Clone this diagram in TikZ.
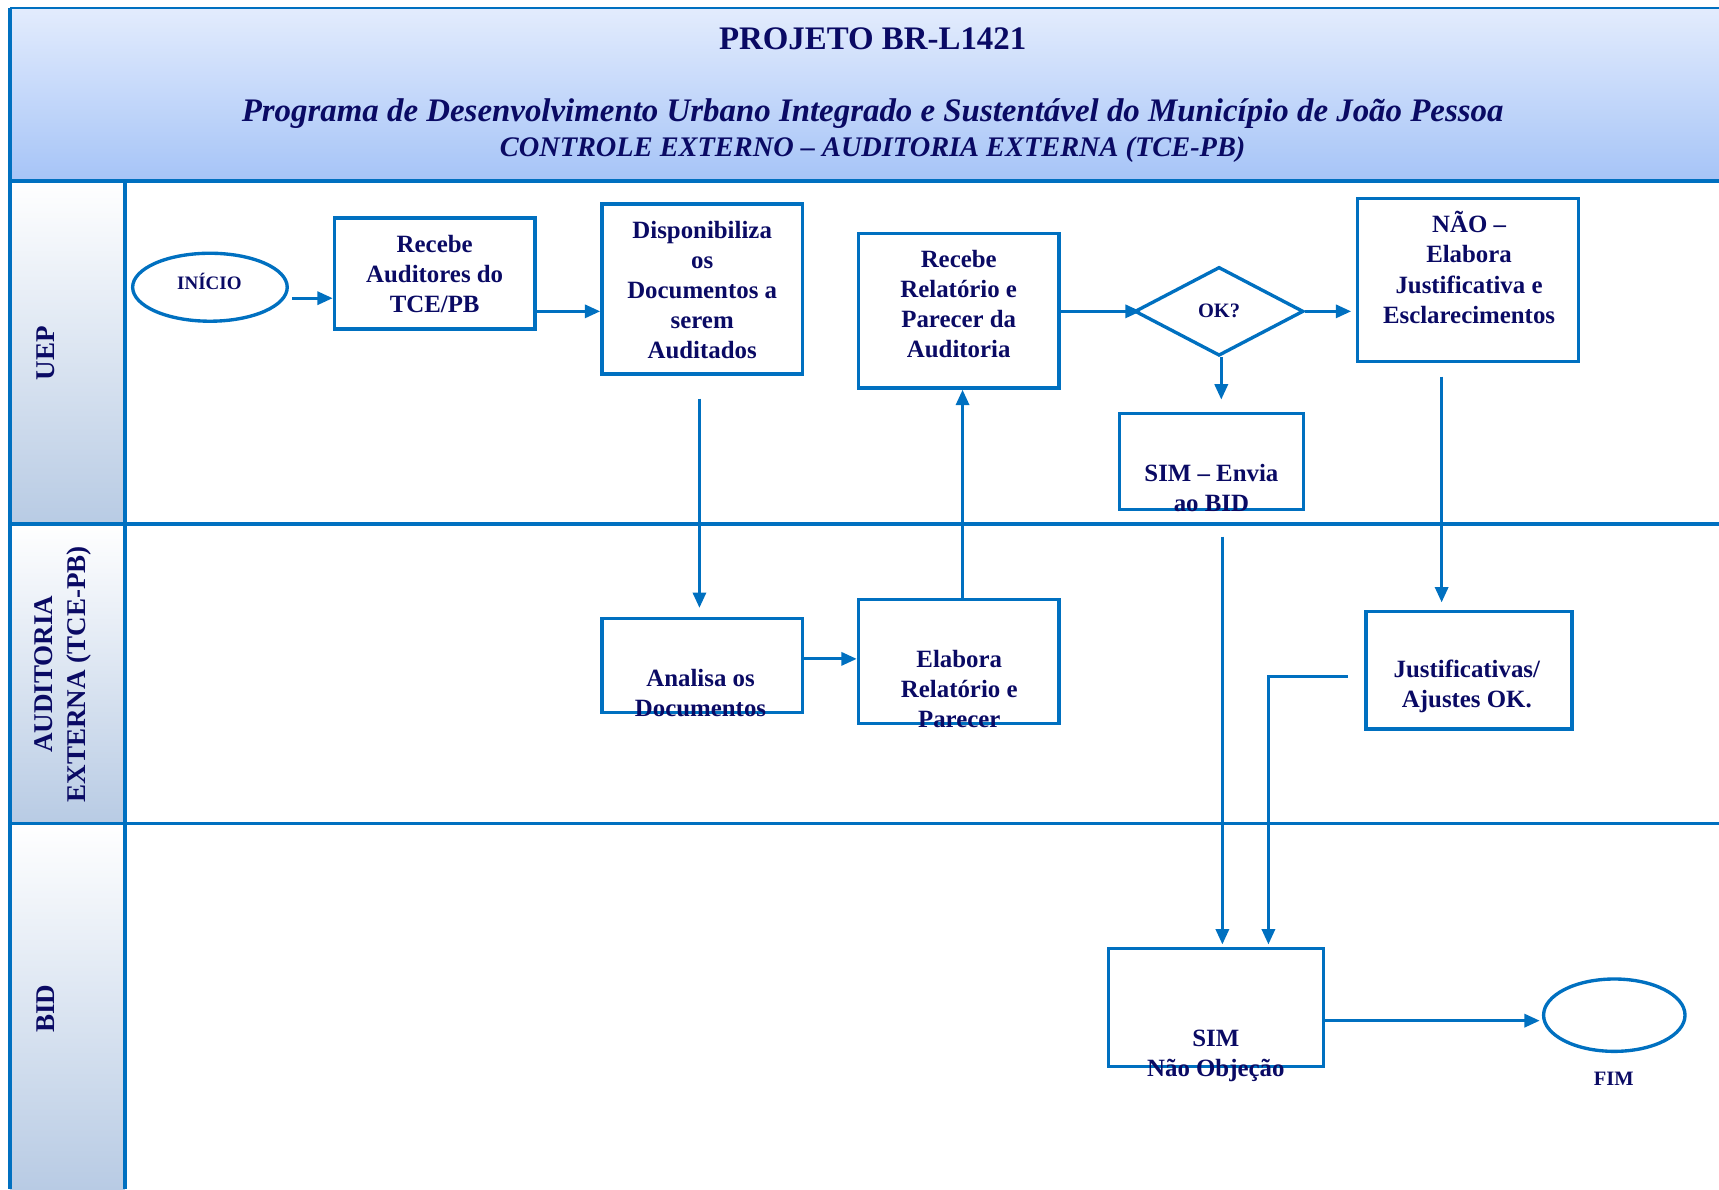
\documentclass[tikz,border=0pt]{standalone}
\usepackage{fontspec}
\setmainfont{Liberation Serif}
\usetikzlibrary{arrows.meta,shapes.geometric,calc}

\definecolor{lineblue}{RGB}{0,112,192}
\definecolor{txtnavy}{RGB}{10,10,100}
\definecolor{headtop}{RGB}{227,236,253}
\definecolor{headbot}{RGB}{166,196,247}
\definecolor{lanebot}{RGB}{184,203,228}

\tikzset{every picture/.style={line width=0.75pt}}
\tikzset{
  procbox/.style={draw=lineblue, line width=2.3pt, rectangle, inner sep=0pt},
  endoval/.style={draw=lineblue, line width=2.3pt, ellipse, inner sep=0pt},
  boxtext/.style={text=txtnavy, font=\bfseries\fontsize{17}{20.6}\selectfont, align=center, inner sep=0pt},
  headtext/.style={text=txtnavy, font=\bfseries\fontsize{22.5}{27}\selectfont, inner sep=0pt, anchor=base},
  lanetag/.style={text=txtnavy, font=\bfseries\fontsize{18.5}{23}\selectfont, align=center, rotate=90, inner sep=0pt},
  flow/.style={draw=lineblue, line width=2pt, -{Triangle[length=10.5pt,width=9pt]}},
  lanerule/.style={draw=lineblue, line width=2.4pt},
}

\begin{document}
\begin{tikzpicture}[x=0.75pt,y=0.75pt,yscale=-1,xscale=1]
\useasboundingbox (0,0) rectangle (1568,1085);

%Shape: Header band
\shade [top color=headtop, bottom color=headbot] (9,7) rectangle (1568,165);
%Shape: Lane labels
\shade [top color=white, bottom color=lanebot] (9,165) rectangle (114,478);
\shade [top color=white, bottom color=lanebot] (9,478) rectangle (114,751);
\shade [top color=white, bottom color=lanebot] (9,751) rectangle (114,1085);

%Straight Lines: pool and lanes
\draw [lanerule, line width=1.6pt] (9,7) -- (1568,7) ;
\draw [lanerule] (9,7) -- (9,1085) ;
\draw [lanerule, line width=3pt] (9,165) -- (1568,165) ;
\draw [lanerule] (9,478) -- (1568,478) ;
\draw [lanerule] (9,751) -- (1568,751) ;
\draw [lanerule] (114,165) -- (114,1085) ;

% Text Node
\node [headtext] (title) at (796,45) {PROJETO BR-L1421};
% Text Node
\node [headtext, font=\bfseries\itshape\fontsize{22.5}{27}\selectfont] (prog) at (796,111) {Programa de Desenvolvimento Urbano Integrado e Sustentável do Município de João Pessoa};
% Text Node
\node [headtext, font=\bfseries\itshape\fontsize{19.4}{23}\selectfont] (ctrl) at (796,143) {CONTROLE EXTERNO – AUDITORIA EXTERNA (TCE-PB)};

% Text Node
\node [lanetag] (uep) at (42,322) {UEP};
% Text Node
\node [lanetag] (audit) at (57.5,615) {AUDITORIA\\EXTERNA (TCE-PB)};
% Text Node
\node [lanetag] (bid) at (42,920) {BID};

%Shape: Ellipse
\node [endoval, minimum width=141*0.75pt, minimum height=62*0.75pt] (inicio) at (191.5,262) {};
%Shape: Rectangle
\node [procbox, minimum width=183*0.75pt, minimum height=101*0.75pt] (recaud) at (396.5,249.5) {};
%Shape: Rectangle
\node [procbox, minimum width=183*0.75pt, minimum height=155*0.75pt] (disp) at (640.5,263.5) {};
%Shape: Rectangle
\node [procbox, minimum width=183*0.75pt, minimum height=141*0.75pt] (recrel) at (874.5,283.5) {};
%Shape: Diamond
\node [draw=lineblue, line width=2.3pt, diamond, inner sep=0pt, minimum width=154*0.75pt, minimum height=81*0.75pt] (ok) at (1112,284) {};
%Shape: Rectangle
\node [procbox, minimum width=202*0.75pt, minimum height=149*0.75pt] (nao) at (1339,255.5) {};
%Shape: Rectangle
\node [procbox, minimum width=168*0.75pt, minimum height=88*0.75pt] (simenv) at (1105,421) {};
%Shape: Rectangle
\node [procbox, minimum width=183*0.75pt, minimum height=86*0.75pt] (anal) at (640.5,607) {};
%Shape: Rectangle
\node [procbox, minimum width=183*0.75pt, minimum height=113*0.75pt] (elab) at (874.5,603.5) {};
%Shape: Rectangle
\node [procbox, minimum width=188*0.75pt, minimum height=107*0.75pt] (just) at (1340,611.5) {};
%Shape: Rectangle
\node [procbox, minimum width=196*0.75pt, minimum height=108*0.75pt] (simno) at (1109,919) {};
%Shape: Ellipse
\node [endoval, minimum width=129*0.75pt, minimum height=66*0.75pt] (fim) at (1472.5,926) {};

% Text Node
\node [boxtext, font=\bfseries\fontsize{13}{16}\selectfont] (t-inicio) at (191,257) {INÍCIO};
% Text Node
\node [boxtext] (t-recaud) at (396.5,250) {Recebe\\Auditores do\\TCE/PB};
% Text Node
\node [boxtext] (t-disp) at (640.5,264.5) {Disponibiliza\\os\\Documentos a\\serem\\Auditados};
% Text Node
\node [boxtext] (t-recrel) at (874.5,277.5) {Recebe\\Relatório e\\Parecer da\\Auditoria};
% Text Node
\node [boxtext, font=\bfseries\fontsize{14}{17}\selectfont] (t-ok) at (1112,284) {OK?};
% Text Node
\node [boxtext] (t-nao) at (1340,244) {NÃO –\\Elabora\\Justificativa e\\Esclarecimentos};
% Text Node
\node [boxtext] (t-simenv) at (1105,445.5) {SIM – Envia\\ao BID};
% Text Node
\node [boxtext] (t-anal) at (639,632) {Analisa os\\Documentos};
% Text Node
\node [boxtext] (t-elab) at (875,628.5) {Elabora\\Relatório e\\Parecer};
% Text Node
\node [boxtext] (t-just) at (1338,626) {Justificativas/\\Ajustes OK.};
% Text Node
\node [boxtext] (t-simno) at (1109,963.5) {SIM\\Não Objeção};
% Text Node
\node [boxtext, font=\bfseries\fontsize{14}{17}\selectfont] (t-fim) at (1472,984) {FIM};

%Straight Lines
\draw [flow] ($(inicio.east)+(3,10)$) -- ($(recaud.west)+(0,22.5)$) ;
\draw [flow] ($(recaud.east)+(0,34.5)$) -- ($(disp.west)+(0,20.5)$) ;
\draw [flow] ($(disp.south)+(-2.5,21)$) -- ($(anal.north)+(-2.5,-8)$) ;
\draw [flow] ($(anal.east)+(0,-6)$) -- ($(elab.west)+(0,-2.5)$) ;
\draw [flow] ($(elab.north)+(3.5,0)$) -- ($(recrel.south)+(3.5,0)$) ;
\draw [flow] ($(recrel.east)+(0,0.5)$) -- ($(ok.west)+(7,0)$) ;
\draw [flow] (ok.east) -- ($(nao.west)+(-4,28.5)$) ;
\draw [flow] ($(ok.south)+(2,0)$) -- ($(simenv.north)+(9,-11)$) ;
\draw [flow] ($(nao.south)+(-24,12)$) -- ($(just.north)+(-25,-7)$) ;
\draw [flow] ($(simenv.south)+(10,23)$) -- ($(simno.north)+(6,-2)$) ;
\draw [flow] ($(just.west)+(-15,5.5)$) -| ($(simno.north)+(48,-2)$) ;
\draw [flow] ($(simno.east)+(0,12)$) -- ($(fim.west)+(-2,5)$) ;

\end{tikzpicture}
\end{document}
